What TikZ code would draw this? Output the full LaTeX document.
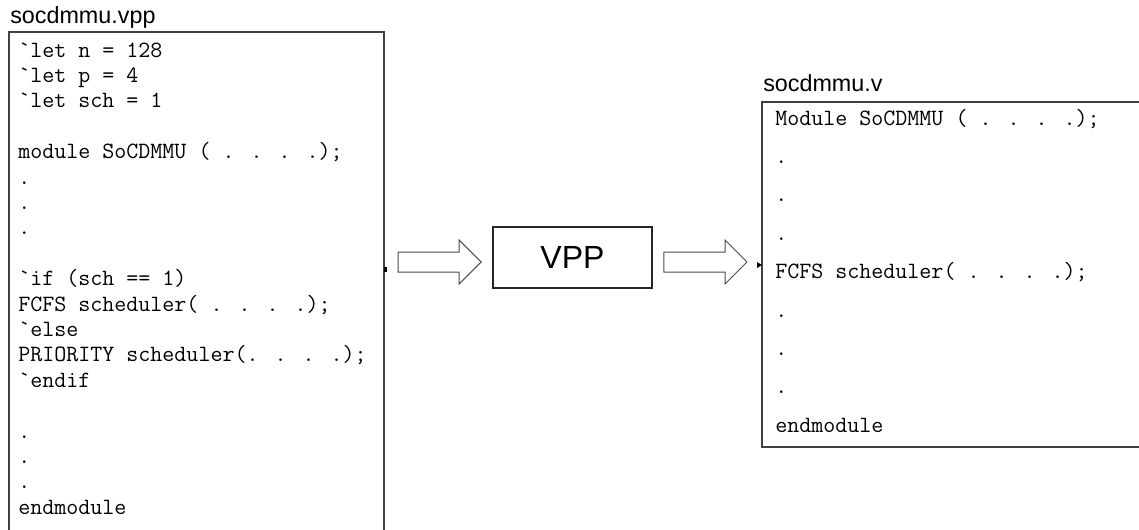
\documentclass[tikz,border=0pt]{standalone}
\usepackage{fontspec}
\newfontfamily\labelfont{Liberation Sans}
\usetikzlibrary{calc}

% hollow block arrow from #1 to the tip #2
\newcommand\blockarrow[2]{%
  \draw[hollow] ($(#1)+(0,-10)$) -- ($(#2)+(-22,-10)$) -- ($(#2)+(-22,-22)$) -- (#2)
    -- ($(#2)+(-22,22)$) -- ($(#2)+(-22,10)$) -- ($(#1)+(0,10)$) -- cycle;}

\begin{document}
\begin{tikzpicture}[x=0.75pt,y=-0.75pt,
    code/.style={anchor=base west,inner sep=0pt,font=\ttfamily\fontsize{17.5}{20}\selectfont},
    filename/.style={anchor=base west,inner sep=0pt,font=\labelfont\fontsize{17.5}{20}\selectfont},
    frame/.style={draw=black!75,line width=0.95pt},
    hollow/.style={draw=black!70,line width=0.75pt,fill=white}]
  \path[use as bounding box,clip] (0,0) rectangle (1139,529);
  \fill[white] (0,0) rectangle (1139,529);

  % source file, runs off the bottom edge
  \node[filename] (srcname) at (10,23) {socdmmu.vpp};
  \draw[frame] (9,560) |- (384,32) -- (384,560);
  \foreach \n/\txt in {1/\textasciigrave let n = 128,
                      2/\textasciigrave let p = 4,
                      3/\textasciigrave let sch = 1,
                      5/module SoCDMMU ( . . . .);,
                      6/., 7/., 8/.,
                      10/\textasciigrave if (sch == 1),
                      11/FCFS scheduler( . . . .);,
                      12/\textasciigrave else,
                      13/PRIORITY scheduler(. . . .);,
                      14/\textasciigrave endif,
                      16/., 17/., 18/.,
                      19/endmodule}
    \node[code] (src\n) at (18,{57+25.4*(\n-1)}) {\txt};

  % generated file, runs off the right edge
  \node[filename] (dstname) at (763,91) {socdmmu.v};
  \draw[frame] (1160,102) -| (762,447) -- (1160,447);
  \foreach \n/\txt in {1/Module SoCDMMU ( . . . .);,
                      2/., 3/., 4/.,
                      5/FCFS scheduler( . . . .);,
                      6/., 7/., 8/.,
                      9/endmodule}
    \node[code] (dst\n) at (775,{125+38.4*(\n-1)}) {\txt};

  % preprocessor
  \node[draw=black!85,line width=1.4pt,minimum width=119.25pt,minimum height=45.75pt,
        inner sep=0pt,font=\labelfont\fontsize{24}{28}\selectfont] (vpp) at (572.5,257.5) {VPP};

  \coordinate (inTail) at (398,262);
  \coordinate (inTip) at ($(vpp.west)+(-11,4.5)$);
  \coordinate (outTail) at ($(vpp.east)+(11,4.5)$);
  \coordinate (outTip) at (747,262);
  \blockarrow{inTail}{inTip}
  \blockarrow{outTail}{outTip}

  % port marks on the two frames
  \coordinate (srcport) at (384,269.5);
  \coordinate (dstport) at (762,265);
  \fill[black] ($(srcport)+(0,-2.5)$) rectangle ($(srcport)+(3,2.5)$);
  \fill[black] (dstport) -- ++(-5,-3) -- ++(0,6) -- cycle;
\end{tikzpicture}
\end{document}
